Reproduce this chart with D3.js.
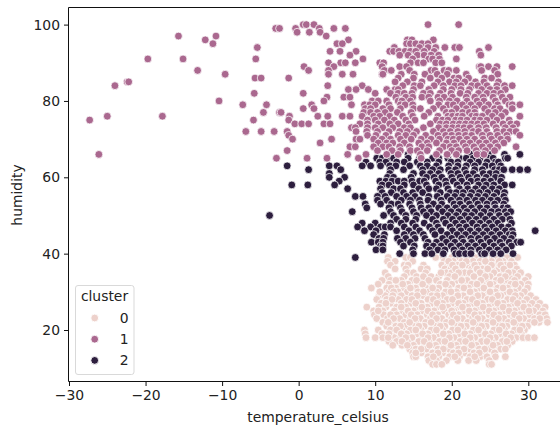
<!DOCTYPE html>
<html><head><meta charset="utf-8">
<script src="https://cdn.jsdelivr.net/npm/d3@7/dist/d3.min.js"></script>
<style>html,body{margin:0;padding:0;background:#fff}svg{display:block}text{font-family:"DejaVu Sans",sans-serif}</style>
</head><body><svg id="c" width="560" height="430"></svg>
<script>
const xTicks = [-30,-20,-10,0,10,20,30];
const yTicks = [20,40,60,80,100];
const clusterNames = ["0","1","2"];
const clusterColors = ["#edd1cb","#aa688f","#2d1e3e"];
const xLabel = "temperature_celsius", yLabel = "humidity", legendTitle = "cluster";

// each row: [humidity, [temperatures read at that humidity]]
const cluster0 = [
[39,[11.7,14,14.6,17.9,18.9,20,21,22,23,24.2,25.3,26,27.2,28.6]],
[38,[11.6,12.6,14.9,19,20.2,21.3,22.8,23.7,25.2,26.7,27.8]],
[37,[12,13.8,14.3,16.3,18.7,19.5,20.8,22,23.5,24.6,25.8,27,28.2]],
[36,[12.6,14,16,16.8,19.1,19.9,21.1,22.6,24,25.4,26.2,27.4,28.5]],
[35,[11.3,14.2,15,16.6,19.3,20,21.7,23,24.4,25.5,26.8,28,29]],
[34,[11.7,13.8,15.4,17.3,18.3,19.7,21,22.3,23.8,25,26.3,27.5,28.6,30]],
[33,[10.9,12,13.4,14.8,16,18,19.4,20.7,22,23.2,24.5,25.8,27,28.2,29.6]],
[32,[10.4,11.8,12.9,14.3,15.5,17,18.5,20,21.4,22.6,24,25.4,26.5,27.7,29,30]],
[31,[9.5,11.5,12.7,13.8,15.3,16.6,18.3,19.6,20.9,22.2,23.6,24.8,26,27.3,28.7,29.9]],
[30,[11.8,13,14.2,15.6,17,18,19.2,20.6,21.8,23,24.3,25.7,27,28.2,29.5]],
[29,[10.5,11.3,13.4,14.8,16.2,17.4,18.8,20.1,21.5,22.8,24,25.2,26.4,27.6,29,30.3]],
[28,[10.2,11.5,13,14.1,15.5,16.9,18.2,19.4,20.8,22,23.4,24.7,25.9,27.3,28.7,29.8,31]],
[27,[10.8,12,13.4,14.7,16,17.5,18.8,20.2,21.5,22.7,24,25.3,26.7,28,29.3,30.5,31.5]],
[26,[8.9,10.5,11.4,12.8,14,15.4,16.8,18.1,19.5,20.8,22.1,23.5,24.8,26,27.4,28.8,30,31.2,32.2]],
[25,[9.8,11,12.5,13.6,15,16.2,17.7,19,20.3,21.6,23,24.2,25.5,26.8,28.2,29.5,30.7,31.9]],
[24,[9.9,11.1,12.8,14,15.5,16.8,18.2,19.6,20.9,22.3,23.6,24.9,26.2,27.6,28.9,30.2,31.5,32.2]],
[23,[10.2,11.6,13.2,14.6,15.9,17.2,18.7,20,21.4,22.7,24,25.4,26.8,28.1,29.4,30.8,32.4]],
[22,[11,12.4,13.8,15.3,16.6,18,19.3,20.7,22.1,23.4,24.7,26.1,27.4,28.8,30.2,31.4,32.5]],
[21,[11.5,12.7,13.9,15,16.4,17.8,19.1,20.5,21.9,23.2,24.5,25.9,27.2,28.6,29.9]],
[20,[8.6,10.4,12,13.5,14.6,16,17.3,18.8,20.1,21.5,22.8,24.1,25.5,26.9,28.2,29.5]],
[19,[8.7,10.9,12.8,14.1,15.5,16.9,18.2,19.6,21,22.4,23.7,25.1,26.4,27.8,29.1]],
[18,[8.8,10,11,12.5,13.3,14.8,16.2,17.6,19,20.3,21.7,23,24.4,25.7,27,28.4,29.3,30,30.8]],
[17,[11.8,12.8,14.2,15.7,17,18.4,19.8,21.1,22.5,23.9,25.2,26.6,27.9]],
[16,[12.3,13.5,15,16.4,17.9,19.1,20.6,22,23.2,24.7,26,27.3]],
[15,[14.5,15.3,16.7,18.2,19.6,20.9,22.3,23.6,25,26.4,27]],
[14,[14.9,16,17.5,18.8,20.2,21.6,22.9,24.3,25.6]],
[13,[15,15.3,16.9,18.3,19.7,21,22.4,23.7,24.6,25.7,27]],
[12,[17,18,19.3,20.8,22.2,23.2,24.9]],
[11,[17.5,18,18.7,24.9,25.2]]
];
const cluster0Dense = [
[38,[19.6,21.9,24.4,26.2]],[37,[20.1,21.4,23,25.2,26.4,27.6]],[36,[20.5,23.3,24.7,26.8]],[35,[18.6,20.9,22.4,23.7,27.4]],
[34,[16.3,20.4,22.9,24.4,27]],[33,[12.7,15.4,17,21.3,23.8,26.4]],[32,[13.6,16.2,19.2,23.3,25,28.3]],[31,[12.1,14.6,17.5,21.6,24.2,26.7]],
[30,[10.6,12.4,16.3,19.9,22.4,25,27.6]],[29,[12.3,15.5,18.1,20.8,23.4,26,28.3]],[28,[12.2,14.8,17.6,20.1,22.7,25.3,28]],[27,[11.4,15.3,18.1,20.9,23.3,26,28.6]],
[26,[13.4,16.1,18.8,21.4,24.1,26.7,29.4]],[25,[10.4,14.3,16.9,20,22.3,24.9,27.5,30.1]],[24,[12,14.7,17.5,20.2,23,25.5,28.2]],[23,[12.4,15.2,18,20.7,23.4,26.1,28.8,31.5]],
[22,[11.7,14.5,17.3,20,22.8,25.4,28.1,30.8]],[21,[13.3,15.7,18.5,21.2,23.9,26.6,29.2]],[20,[12.8,15.3,18,20.8,23.5,26.2,28.9]],[19,[11.8,13.4,16.2,18.9,21.7,24.4,27.1]],
[18,[11.7,14,16.9,19.7,22.4,25,27.7]],[17,[13.5,16.4,19.1,21.8,24.6,27.2]],[16,[14.2,17.1,19.9,22.6,25.4]],[15,[16,18.9,21.6,24.3]],
[14,[15.3,18.2,20.9,23.6]],[13,[17.6,20.4,23]]
];
const cluster2 = [
[66,[14.3,22.6,23.7,25,26.9,28.9]],
[65,[10.2,10.9,11.8,12.4,14.3,15.8,17.5,18.3,19.5,21,21.9,22.8,23.7,24.8,25.4,27,27.3]],
[64,[8.8,10.6,11.4,12.8,13.8,15.5,16.8,18.3,19.9,20.8,22.4,23.5,24.6,25.7,26.1]],
[63,[-1.5,4,5,8.3,9.4,10.7,11.9,12.7,14.5,15.9,16.8,18,19.6,20.8,21.9,23,24.4,25.3,26.4]],
[62,[1.3,5.5,12,13.7,16.2,17.5,18.5,19.6,20.5,21.7,23,24,25.6,26.2,26.8,27.9,28.9,29.9]],
[61,[4,11.9,15,16.2,17.2,18.3,19.9,20.8,21.9,22.8,24.1,25,25.8]],
[60,[4,6,11.6,12.4,14.7,16.7,17.7,18.7,20,21.1,22.2,23.3,24.5,25.7,26.5]],
[59,[5.3,10.6,11.4,12.2,13,13.8,14.8,15.8,16.4,17.9,19.2,20.2,21.3,22.5,23.4,24.2,25.1,26.4]],
[58,[-0.9,1.2,4.7,10.9,11.8,13.8,15,16.7,18.3,19.3,20.7,22,23.5,24.5,25.5,26.9,27.9]],
[57,[6.4,10.7,12.4,13.3,15.7,17,18,19.5,21,22.1,23.1,24.2,25.3,26.2]],
[56,[10.9,12.1,13.7,14.9,16.2,18.5,19.8,20.6,21.5,22.6,23.6,24.7,25.9,26.9]],
[55,[7.4,8.4,10.3,11.3,12.8,14.1,15.2,17,18.1,19.4,20.4,21.4,22.4,23.4,24.4,25.5,26.8]],
[54,[10.3,11.5,13.4,14.6,15.8,16.9,18.6,19.9,21,22,23.1,24,25.1,26,27]],
[53,[8.7,10.7,12.1,13,14.5,15.9,17.6,18.7,20.3,21.1,22.3,23.4,24.6,25.6,26.8]],
[52,[8.9,11.8,13.3,14.8,16,17,18.3,19.4,20.5,21.6,22.6,23.7,24.6,25.7,26.7,27.3]],
[51,[7,12,13.5,15,16.3,17.3,18.8,19.9,20.9,22,23,24.2,25.2,26.1,27,27.7]],
[50,[-3.8,11.1,12.4,14,15.4,16.7,18,19.5,20.6,21.7,22.6,23.8,25,26.2,27.2]],
[49,[12.8,14,15.3,17.5,18.9,20.1,21.1,22.2,23.2,24.4,25.5,26.6,27.6]],
[48,[8.3,10,12,13.4,14.9,16.4,18,19.2,20.5,21.5,22.7,23.7,24.9,26,27.8]],
[47,[7.7,9.4,10.7,11.3,12,13.8,15.3,17.1,18.2,19.8,21,21.9,23.3,24.3,25.3,26.5,27.4]],
[46,[8.6,10.1,12.8,14.4,15.8,17.5,18.6,20.1,21.2,22.4,23.5,24.6,25.8,27,27.9,30.9]],
[45,[9.8,11.2,13.8,15,16.3,17.8,19.4,20.7,21.8,23,24.1,25.2,26.3,27.5,28]],
[44,[10.5,11.1,12.9,14,15.2,16.5,18.8,20,21.3,22.5,23.5,24.6,25.6,26.8,27.8]],
[43,[9.5,10.4,11,13.3,14.6,16.9,18,19.3,20.4,21.5,22.6,23.8,25,26.3,27.5,28.5,29]],
[42,[10.7,11,13.7,15.1,16.7,17.6,18.6,19.9,21,22.1,23.1,24.2,25.5,26.6,27.8]],
[41,[10.1,11,14.9,17.1,18.2,19.1,20.3,21.4,22.5,23.6,24.9,26,27.1]],
[40,[13.2,15,16.5,17.4,18.9,20.5,21,21.8,22.5,23.9,24.3,25.4,26.4,28]],
[39,[7.4]]
];
const cluster1 = [
[100,[0.6,1,2,16.9,20.9]],
[99,[-3,-2.5,-0.4,2.7,4.6,6.1]],
[98,[-0.2,1.4,2.8]],
[97,[-15.7,-10.8,3.6]],
[96,[-12.2,6.5,14.2,14.8,17.6]],
[95,[-11.2,5,5.7,14.1,14.6,15.3,16.1,16.9]],
[94,[-5.4,12.5,15.8,16.9,17.9,19.1,20.4,21,24.8]],
[93,[4.1,5.4,7.5,11.9,12.4,13.1,13.9,14.6,15.3,16.4,17.7,23.6]],
[92,[6.7,13.2,14.3,15.5,16.4,17.3,18.3,23.8]],
[91,[-19.7,-15.1,-5.6,8.4,14.9,17,17.5,18.4,20.6]],
[90,[3.9,5.5,6.1,7.4,10.6,11.1,14.6,15.6,16.3,17.9,18.7]],
[89,[0.7,4.6,10.9,13.2,14.1,23.6,23.8,24.8,25.9,27.9]],
[88,[-13.2,1.3,3.9,11.2,12.1,14.5,17.3,17.8,19,19.6,20.6,23.9,25.6]],
[87,[-9.6,3.9,5.7,7.1,10.9,11,13.4,15.1,16.5,18.1,19.4,21.9,26]],
[86,[-5.7,-4.9,-1.3,13,15,17.2,18.7,20.3,20.9,22.2,24.3,25.2]],
[85,[-22.4,-22.2,12.6,14.2,16.1,18.2,19.7,20.6,21.7,23.1,24.2,26.1]],
[84,[-24,3.8,8.3,13.6,15.1,15.9,17.7,18.9,20.4,21.2,22.6,23.4,24.6,25.9,26.9,27.9]],
[83,[6.5,7.5,9.1,11.5,12.6,13,15,17,18.9,20,21.2,22.3,23.9,25,25.9,27]],
[82,[-5.8,0.6,10,12,13,13.8,14.8,16.3,17.2,18.5,19.9,21.1,22.1,23.5,24.6,25.5,26.4]],
[81,[3.7,5.9,6.7,12.7,14,14.9,16.1,17,18.2,19,20.1,21.9,23,24.1,25.4,26.6,27.6]],
[80,[-10.4,3.3,9.6,10.4,11.5,13,13.5,14.6,17.2,18.4,19.7,20.7,22,23.3,24.2,25.7,27]],
[79,[-7.3,-4.2,1.7,6.9,8.6,9.3,10,11.8,13.3,13.9,14.9,18.3,19.5,20.2,21.4,22.5,23.6,24.8,26,27.5,27.9,28.9]],
[78,[0.6,2,8.7,9.4,11,12,13.3,15,15.9,17.6,18.9,20.6,21.9,23,24.3,25.6,26.3,27.9]],
[77,[-4.6,-2.5,-2.3,8.5,9.4,10.3,11.3,12.9,14.7,17,19.3,20,21.4,22.3,23,24.8,25.7,27]],
[76,[-25,-17.8,-1.2,2.5,3.8,5.7,6.7,8.3,9.8,10.6,11.9,13.6,14.9,16.4,18.2,19.5,20.1,20.8,21.4,22.6,23.2,24,25.3,26.5,28.9]],
[75,[-27.3,-5.9,-1.3,9,10,11.2,12.5,14,15.2,18,18.8,19.5,20.5,21.2,22,23,23.7,24.6,25.9,27.5]],
[74,[-0.5,0.4,1.3,3.3,4.1,8,9,10.4,11.9,13,14.4,17.2,18.5,19.3,20.2,21,21.8,22.6,23.4,24.2,25.4,26.7,27.7,28.5]],
[73,[6.9,7.4,9,10,11,12.3,13.8,14.6,16.3,18.3,19.3,20.1,20.9,21.6,22.4,23.5,24.5,25.8,27,28]],
[72,[-6.9,-4.9,-3.2,-1.5,7.5,8.9,10.3,11.8,13.2,14.2,15.4,17.6,18.9,19.8,20.8,21.7,22.8,23.5,24.6,25.9,26.8,27.6,28.4]],
[71,[-1.3,9,10.1,11.4,13,14,15,16.6,18.2,19.2,20,20.9,21.8,22.6,24,25,26,27.2,28.9]],
[70,[-0.8,4.3,7.5,8,9.8,10.9,12,13.3,14.7,16,17.3,18.4,19.5,20.2,21,22,23,24.1,25.2,26.4,27.3]],
[69,[2.8,10.4,11.5,12.3,13.8,15.7,16.8,18,19.3,20.3,21.5,22.4,23.6,24.5,25.7,26.8]],
[68,[6.7,7.4,9.8,11,11.8,13.2,14.5,16.1,17,18.9,19.8,20.6,21.8,22.9,24,25,26,28.4]],
[67,[-1.5,10.3,12.2,13.3,14.6,15.5,16.8,18.4,20,20.9,22,23.2,24.4,25.6]],
[66,[-26.1,6.4,8.8,11.5,13,15.9,18,19.4,20.6,23.3,24.2]],
[65,[-2.9,1.1,3.7,7.8,16]]
];

const svg = d3.select("#c");
const x = d3.scaleLinear().domain([-30,30]).range([69,528.3]);
const y = d3.scaleLinear().domain([20,100]).range([330,24.6]);
const plot = {left:68.5, top:7.5, bottom:381.5, right:568};

const flat = (rows,c)=>rows.flatMap(([h,ts])=>ts.map(t=>({t,h,c})));
const layers = [flat(cluster0,0).concat(flat(cluster0Dense,0)),flat(cluster2,2),flat(cluster1,1)];
layers.forEach(pts=>{
  svg.append("g").selectAll("circle").data(pts).join("circle")
    .attr("cx",d=>x(d.t)).attr("cy",d=>y(d.h)).attr("r",3.9)
    .attr("fill",d=>clusterColors[d.c]).attr("stroke","#fff").attr("stroke-width",0.9).attr("stroke-opacity",0.85);
});

// spines
svg.append("path").attr("d",`M${plot.left},${plot.bottom}V${plot.top}H560`).attr("fill","none").attr("stroke","#111").attr("stroke-width",1);
svg.append("path").attr("d",`M${plot.left},${plot.bottom}H560`).attr("fill","none").attr("stroke","#111").attr("stroke-width",1);

const fs = "13.9px";
const gx = svg.append("g").attr("transform",`translate(0,${plot.bottom})`)
  .call(d3.axisBottom(x).tickValues(xTicks).tickSize(4.5).tickPadding(4));
const gy = svg.append("g").attr("transform",`translate(${plot.left},0)`)
  .call(d3.axisLeft(y).tickValues(yTicks).tickSize(4.5).tickPadding(4));
[gx,gy].forEach(g=>{
  g.select(".domain").remove();
  g.selectAll("line").attr("stroke","#111").attr("stroke-width",1);
  g.selectAll("text").attr("fill","#222").style("font-size",fs).style("font-family",'"DejaVu Sans"');
});

svg.append("text").attr("x",318).attr("y",421.5).attr("text-anchor","middle").attr("fill","#222").style("font-size",fs).text(xLabel);
svg.append("text").attr("transform","translate(22,195) rotate(-90)").attr("text-anchor","middle").attr("fill","#222").style("font-size",fs).text(yLabel);

// legend
const lg = svg.append("g");
lg.append("rect").attr("x",75.5).attr("y",285.5).attr("width",58.5).attr("height",89).attr("rx",2.5)
  .attr("fill","#fff").attr("fill-opacity",0.8).attr("stroke","#d9d9d9").attr("stroke-width",1);
lg.append("text").attr("x",104.5).attr("y",301).attr("text-anchor","middle").attr("fill","#222").style("font-size",fs).text(legendTitle);
const legendY = d3.scalePoint().domain(clusterNames).range([318,360.4]);
clusterNames.forEach((n,i)=>{
  lg.append("circle").attr("cx",94.7).attr("cy",legendY(n)).attr("r",3.9)
    .attr("fill",clusterColors[i]).attr("stroke","#fff").attr("stroke-width",0.9);
  lg.append("text").attr("x",128.6).attr("y",legendY(n)+5).attr("text-anchor","end").attr("fill","#222").style("font-size",fs).text(n);
});
</script></body></html>
